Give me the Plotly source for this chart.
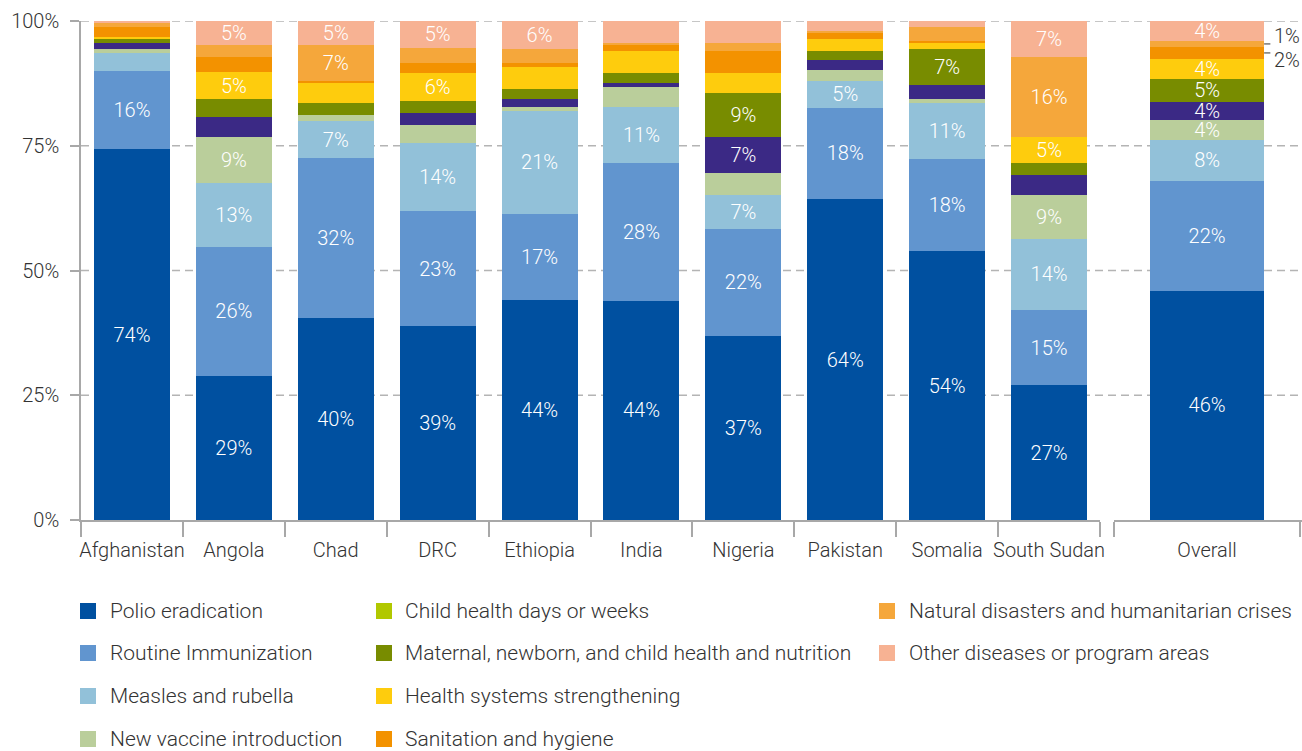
import plotly.graph_objects as go

# ---------------- data ----------------
countries = ["Afghanistan", "Angola", "Chad", "DRC", "Ethiopia", "India",
             "Nigeria", "Pakistan", "Somalia", "South Sudan"]
overall_label = "Overall"

# values per series: 10 countries followed by Overall (percent of spending)
polio          = [74.3, 28.9, 40.4, 38.9, 44.1, 43.9, 36.8, 64.3, 53.9, 27.0, 45.9]
routine        = [15.7, 25.8, 32.2, 23.0, 17.2, 27.6, 21.6, 18.3, 18.4, 15.1, 22.0]
measles        = [3.6, 12.8, 7.3, 13.7, 20.7, 11.3, 6.8, 5.4, 11.3, 14.2, 8.3]
new_vaccine    = [0.8, 9.3, 1.2, 3.6, 0.8, 4.0, 4.4, 2.2, 0.8, 8.8, 4.0]
child_health   = [1.2, 4.0, 0.0, 2.4, 1.6, 0.8, 7.2, 2.0, 2.8, 4.0, 3.6]
maternal       = [0.8, 3.6, 2.4, 2.4, 2.0, 2.0, 8.8, 1.8, 7.2, 2.4, 4.6]
health_systems = [0.4, 5.3, 4.0, 5.6, 4.4, 4.4, 4.0, 2.4, 1.2, 5.2, 4.0]
sanitation     = [2.0, 3.1, 0.4, 2.0, 0.8, 1.2, 4.4, 1.2, 0.4, 0.0, 2.4]
natural        = [0.8, 2.4, 7.2, 3.0, 2.8, 0.4, 1.6, 0.4, 2.8, 16.0, 1.2]
other          = [0.4, 4.8, 4.9, 5.4, 5.6, 4.4, 4.4, 2.0, 1.2, 7.3, 4.0]

series_names = ["Polio eradication", "Routine Immunization", "Measles and rubella",
                "New vaccine introduction", "Child health days or weeks",
                "Maternal, newborn, and child health and nutrition",
                "Health systems strengthening", "Sanitation and hygiene",
                "Natural disasters and humanitarian crises",
                "Other diseases or program areas"]
series_values = [polio, routine, measles, new_vaccine, child_health, maternal,
                 health_systems, sanitation, natural, other]
bar_colors = ["#0050A0", "#6195CF", "#92C1D9", "#BACE9B", "#3B2985", "#788C00",
              "#FECC0D", "#F39200", "#F5A73B", "#F7B293"]
legend_colors = ["#0050A0", "#6195CF", "#92C1D9", "#BACE9B", "#B1C800", "#788C00",
                 "#FECC0D", "#F39200", "#F5A73B", "#F7B293"]

y_ticks = [0, 25, 50, 75, 100]
y_ticktext = ["0%", "25%", "50%", "75%", "100%"]

# ---------------- styling ----------------
W, H = 1302, 751
FONT = "Roboto"
TXT = "#333333"
GRID = "#b4b4b4"
AXIS = "#a8a8a8"
label_min_country = 4.6
label_min_overall = 3.0

fig = go.Figure()

for name, vals, col in zip(series_names, series_values, bar_colors):
    cvals = vals[:10]
    ctext = [f"{round(v)}%" if v >= label_min_country else "" for v in cvals]
    fig.add_trace(go.Bar(
        x=countries, y=cvals, xaxis="x", yaxis="y", name=name,
        marker=dict(color=col, line=dict(width=0)), width=0.745,
        text=ctext, textposition="inside", insidetextanchor="middle", textangle=0,
        textfont=dict(family=FONT, size=20, color="white", weight=300),
        showlegend=False, hovertemplate="%{x}: %{y:.1f}%<extra>" + name + "</extra>"))
    ov = vals[10]
    otext = [f"{round(ov)}%" if ov >= label_min_overall else ""]
    fig.add_trace(go.Bar(
        x=[overall_label], y=[ov], xaxis="x2", yaxis="y2", name=name,
        marker=dict(color=col, line=dict(width=0)), width=0.613,
        text=otext, textposition="inside", insidetextanchor="middle", textangle=0,
        textfont=dict(family=FONT, size=20, color="white", weight=300),
        showlegend=False, hovertemplate="%{x}: %{y:.1f}%<extra>" + name + "</extra>"))

x_dom = [81 / W, 1100 / W]
x2_dom = [1114 / W, 1.0]
y_dom = [(H - 520) / H, (H - 21) / H]

tickfont = dict(family=FONT, size=20, color=TXT, weight=300)

fig.update_layout(
    width=W, height=H, barmode="stack",
    margin=dict(l=0, r=0, t=0, b=0),
    paper_bgcolor="white", plot_bgcolor="rgba(0,0,0,0)",
    font=dict(family=FONT, size=20, color=TXT, weight=300),
    uniformtext=dict(mode="show", minsize=20),
    xaxis=dict(domain=x_dom, type="category", range=[-0.5, 9.5], tickson="boundaries",
               ticks="outside", ticklen=15, tickcolor=AXIS, tickwidth=1.5, tickangle=0,
               ticklabelstandoff=11,
               showline=True, linecolor=AXIS, linewidth=1.5, showgrid=False,
               tickfont=tickfont, anchor="y", automargin=False, fixedrange=True),
    yaxis=dict(domain=y_dom, range=[0, 100], tickvals=y_ticks, ticktext=y_ticktext,
               ticks="outside", ticklen=9, tickcolor=AXIS, tickwidth=1.5,
               ticklabelstandoff=7,
               showline=True, linecolor=AXIS, linewidth=1.5, showgrid=False,
               zeroline=False, tickfont=tickfont, anchor="x", automargin=False,
               fixedrange=True),
    xaxis2=dict(domain=x2_dom, type="category", range=[-0.5, 0.51], tickson="boundaries",
                ticks="outside", ticklen=15, tickcolor=AXIS, tickwidth=1.5, tickangle=0,
                ticklabelstandoff=11,
                showline=True, linecolor=AXIS, linewidth=1.5, showgrid=False,
                tickfont=tickfont, anchor="y2", automargin=False, fixedrange=True),
    yaxis2=dict(domain=y_dom, range=[0, 100], showticklabels=False, ticks="",
                showline=False, showgrid=False, zeroline=False, anchor="x2",
                automargin=False, fixedrange=True),
)

shapes = []
# dashed gridlines spanning both panels
for v in y_ticks[1:]:
    shapes.append(dict(type="line", xref="paper", yref="y", x0=x_dom[0], x1=1.0,
                       y0=v, y1=v, layer="below",
                       line=dict(color=GRID, width=1.5, dash="8px,5px")))

annotations = []
# outside labels for the two smallest Overall segments
ov_vals = [s[10] for s in series_values]
cum = 0
centers = []
for v in ov_vals:
    centers.append(cum + v / 2)
    cum += v
bar_edge = 0.613 / 2
for idx, yshift in ((8, 8), (7, -7)):
    yc = centers[idx]
    shapes.append(dict(type="line", xref="x2", yref="y2", x0=bar_edge, x1=0.34,
                       y0=yc, y1=yc, line=dict(color=TXT, width=1)))
    annotations.append(dict(xref="paper", yref="y2", x=1272 / W, y=yc, yshift=yshift,
                            xanchor="left", yanchor="middle", showarrow=False,
                            text=f"{round(ov_vals[idx])}%",
                            font=dict(family=FONT, size=20, color=TXT, weight=300)))

# manual legend (column-major, three columns)
legend_layout = [
    (0, 80, 108, 611), (1, 80, 108, 653), (2, 80, 108, 696), (3, 80, 108, 739),
    (4, 376, 403, 611), (5, 376, 403, 653), (6, 376, 403, 696), (7, 376, 403, 739),
    (8, 879, 907, 611), (9, 879, 907, 653),
]
for idx, sx, tx, cy in legend_layout:
    shapes.append(dict(type="rect", xref="paper", yref="paper",
                       x0=sx / W, x1=(sx + 16) / W,
                       y0=1 - (cy + 8) / H, y1=1 - (cy - 8) / H,
                       fillcolor=legend_colors[idx], line=dict(width=0)))
    annotations.append(dict(xref="paper", yref="paper", x=tx / W, y=1 - cy / H,
                            xanchor="left", yanchor="middle", showarrow=False,
                            text=series_names[idx],
                            font=dict(family=FONT, size=21, color=TXT, weight=300)))

fig.update_layout(shapes=shapes, annotations=annotations)

fig.write_html("out.html", config={"displayModeBar": False},
               post_script="document.body.style.margin='0';document.body.style.overflow='hidden';")
